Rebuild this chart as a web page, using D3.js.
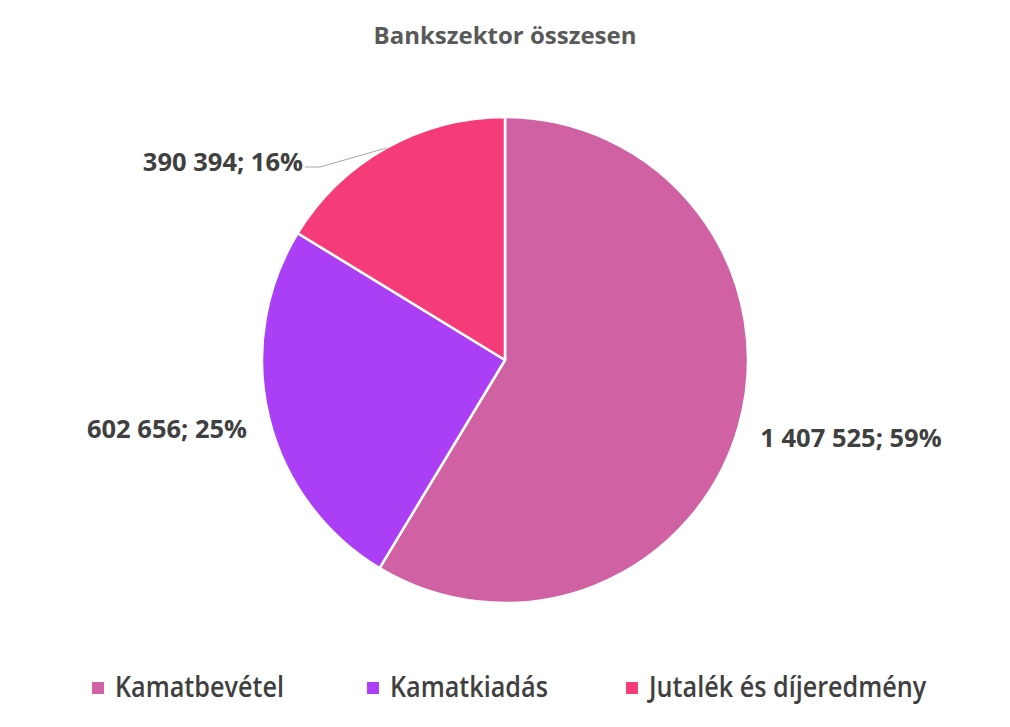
<!DOCTYPE html>
<html><head><meta charset="utf-8">
<script src="https://cdn.jsdelivr.net/npm/d3@7"></script>
<style>body{margin:0;background:#fff}svg{display:block}</style>
</head><body>
<script>
const categories = ["Kamatbevétel", "Kamatkiadás", "Jutalék és díjeredmény"];
const values = [1407525, 602656, 390394];
const colors = ["#D062A3", "#AA3FF5", "#F63C78"];
const labelTexts = ["1 407 525; 59%", "602 656; 25%", "390 394; 16%"];
const title = "Bankszektor összesen";

const W = 1010, H = 727, cx = 505, cy = 360, R = 243;
const svg = d3.select("body").append("svg").attr("width", W).attr("height", H);

svg.append("text").attr("x", 505).attr("y", 44).attr("text-anchor", "middle")
  .attr("font-family", "Open Sans").attr("font-weight", "bold").attr("font-size", 24)
  .attr("fill", "#595959").text(title);

const pie = d3.pie().sort(null).value(d => d)(values);
const arc = d3.arc().innerRadius(0).outerRadius(R);
const g = svg.append("g").attr("transform", `translate(${cx},${cy})`);
g.selectAll("path").data(pie).enter().append("path")
  .attr("d", arc).attr("fill", (d, i) => colors[i])
  .attr("stroke", "#fff").attr("stroke-width", 2.5).attr("stroke-linejoin", "round");

// labels: placement (relative to pie center) similar to best-fit
const labelPos = [[346, 87, "middle"], [-338, 78, "middle"], [-202, -189, "end"]];
pie.forEach((d, i) => {
  g.append("text").attr("x", labelPos[i][0]).attr("y", labelPos[i][1])
    .attr("text-anchor", labelPos[i][2])
    .attr("font-family", "Open Sans").attr("font-weight", "bold").attr("font-size", 25.5)
    .attr("fill", "#404040").text(labelTexts[i]);
});
// leader line for the small slice
const d2 = pie[2];
const mid = (d2.startAngle + d2.endAngle) / 2;
const p0 = [R * Math.sin(mid), -R * Math.cos(mid)];
g.append("polyline")
  .attr("points", `${p0[0]},${p0[1]} ${-185},${-193} ${-200},${-193}`)
  .attr("fill", "none").attr("stroke", "#A6A6A6").attr("stroke-width", 1);

// legend
const legX = [92, 367, 626];
const leg = svg.append("g");
categories.forEach((c, i) => {
  leg.append("rect").attr("x", legX[i]).attr("y", 682).attr("width", 12).attr("height", 12).attr("fill", colors[i]);
  leg.append("text").attr("transform", `translate(${legX[i] + 23},697) scale(0.9,1)`)
    .attr("font-family", "Open Sans").attr("font-weight", 600).attr("font-size", 28)
    .attr("fill", "#404040").text(c);
});
</script>
</body></html>
